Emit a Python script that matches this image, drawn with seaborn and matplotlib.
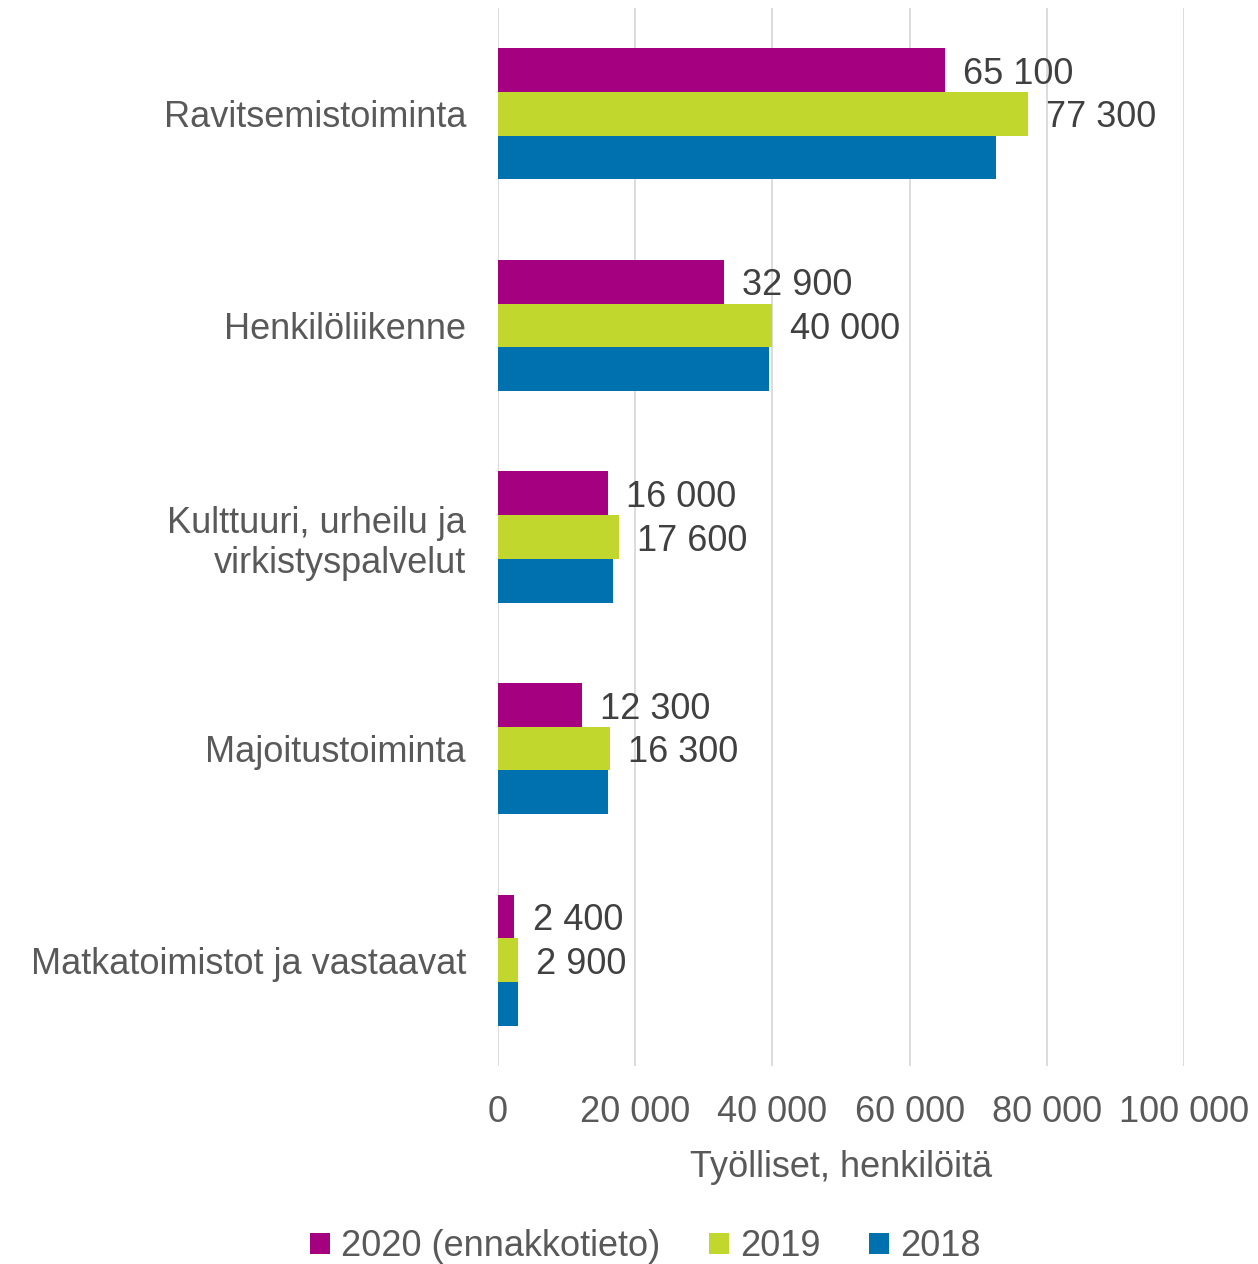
import matplotlib
matplotlib.use("Agg")
import matplotlib.pyplot as plt
import seaborn as sns
import pandas as pd

categories = ['Ravitsemistoiminta', 'Henkilöliikenne', 'Kulttuuri, urheilu ja\nvirkistyspalvelut',
              'Majoitustoiminta', 'Matkatoimistot ja vastaavat']
years = ['2020 (ennakkotieto)', '2019', '2018']
vals_2020 = [65100, 32900, 16000, 12300, 2400]
vals_2019 = [77300, 40000, 17600, 16300, 2900]
vals_2018 = [72600, 39500, 16800, 16000, 2900]
colors = ['#A5007F', '#C1D72E', '#0071AF']

rows = []
for year, vals in zip(years, [vals_2020, vals_2019, vals_2018]):
    for cat, v in zip(categories, vals):
        rows.append({'cat': cat, 'year': year, 'value': v})
df = pd.DataFrame(rows)

sns.set_style('white')
plt.rcParams['font.family'] = ['Liberation Sans', 'DejaVu Sans']

fig = plt.figure(figsize=(12.58, 12.64), dpi=100)
ax = fig.add_axes([498 / 1258, 1 - 1066 / 1264, 686 / 1258, 1058 / 1264])

sns.barplot(data=df, y='cat', x='value', hue='year', hue_order=years, order=categories,
            palette=colors, orient='h', width=0.62, linewidth=0, saturation=1,
            ax=ax, legend=True)

fs = 26
txt = '#595959'
for cont in ax.containers[:2]:
    labs = [f'{int(b.get_width()):,}'.replace(',', ' ') for b in cont]
    anns = ax.bar_label(cont, labels=labs, padding=13, fontsize=fs, color='#404040')
    for a in anns:
        a.xyann = (13, -3)

ax.set_xlim(0, 100000)
ax.set_xticks([0, 20000, 40000, 60000, 80000, 100000])
ax.set_xticklabels(['0', '20 000', '40 000', '60 000', '80 000', '100 000'])
ax.tick_params(axis='x', length=0, pad=21, labelsize=fs, labelcolor=txt)
ax.tick_params(axis='y', length=0, pad=23, labelsize=fs, labelcolor=txt)
ax.set_ylabel('')
ax.set_xlabel('Työlliset, henkilöitä', fontsize=fs, color=txt, labelpad=14)
ax.grid(axis='x', color='#D9D9D9', linewidth=1.3)
ax.set_axisbelow(True)
for s in ax.spines.values():
    s.set_visible(False)

handles, labels = ax.get_legend_handles_labels()
ax.get_legend().remove()
fig.legend(handles, labels, loc='lower center', bbox_to_anchor=(0.513, -0.026), ncol=3,
           frameon=False, fontsize=fs, handlelength=0.55, handleheight=0.55,
           handletextpad=0.3, columnspacing=1.35, labelcolor=txt)

fig.savefig('out.png', dpi=100)
